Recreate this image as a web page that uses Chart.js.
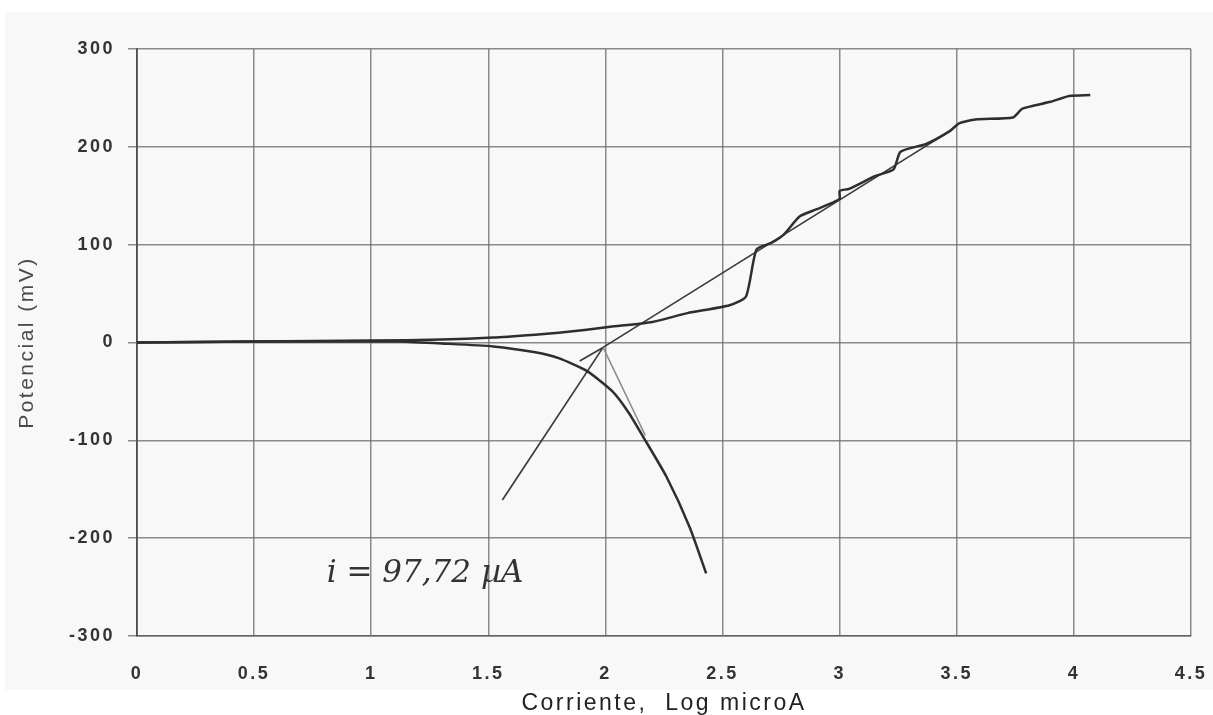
<!DOCTYPE html>
<html>
<head>
<meta charset="utf-8">
<script src="https://cdn.jsdelivr.net/npm/chart.js@4/dist/chart.umd.min.js"></script>
<style>
  html, body { margin: 0; padding: 0; background: #ffffff; }
  #wrap { width: 1213px; height: 715px; }
</style>
</head>
<body>
<div id="wrap"><canvas id="c" width="1213" height="715"></canvas></div>
<script>
// Polarization curve: potential (mV) vs log of current (microA)
const anodicLogI = [0, 0.5, 1.0, 1.3, 1.52, 1.7, 1.8, 1.92, 2.02, 2.2, 2.35, 2.53, 2.6, 2.645, 2.71, 2.76, 2.83, 2.9, 2.97, 3.0, 3.0, 3.04, 3.15, 3.23, 3.26, 3.37, 3.47, 3.51, 3.58, 3.74, 3.78, 3.9, 3.98, 4.07];
const anodicE    = [0, 1, 2, 3, 5, 8, 10, 13, 16, 21, 30, 38, 47, 95, 102, 110, 129, 136, 143, 147, 155, 157, 170, 177, 195, 203, 216, 224, 228, 230, 239, 246, 252, 253];

const cathodicLogI = [0, 0.5, 1.0, 1.12, 1.3, 1.52, 1.7, 1.8, 1.92, 2.03, 2.1, 2.16, 2.26, 2.36, 2.43];
const cathodicE    = [0, 1, 1, 1, -1, -4, -10, -16, -29, -50, -72, -96, -137, -189, -236];

// Corrosion current and potential at the Tafel intersection
const icorr = 97.72;          // microA
const ecorr = -5;             // mV
const logIcorr = Math.log10(icorr);

// Tafel extrapolation end points (log microA, mV)
const anodicTafelEnd   = [3.45, 213];
const cathodicTafelEnd = [2.17, -95];
const lowerTangentEnd  = [1.56, -161];
const shortTangentEnd  = [1.89, -19];

const xTickValues = [0, 0.5, 1, 1.5, 2, 2.5, 3, 3.5, 4, 4.5];
const yTickValues = [-300, -200, -100, 0, 100, 200, 300];

const xTitle = 'Corriente,  Log microA';
const yTitle = 'Potencial (mV)';
const annotationText = 'i = 97,72 \u00B5A';
const annotationPos = [0.81, -245];

function pairs(xs, ys) { return xs.map((x, i) => ({ x: x, y: ys[i] })); }
function segment(end) { return [{ x: logIcorr, y: ecorr }, { x: end[0], y: end[1] }]; }

const curveStyle = { borderColor: '#2e2e2e', borderWidth: 2.5, pointRadius: 0, showLine: true, tension: 0.2, fill: false };
const tafelStyle = { borderColor: '#3a3a3a', borderWidth: 1.7, pointRadius: 0, showLine: true, tension: 0, fill: false };

const panelPlugin = {
  id: 'panel',
  beforeDraw(chart) {
    const ctx = chart.ctx;
    ctx.fillStyle = '#ffffff';
    ctx.fillRect(0, 0, chart.width, chart.height);
    ctx.fillStyle = '#f8f8f8';
    ctx.fillRect(5, 12, chart.width - 5, 678);
    ctx.letterSpacing = '2.5px';
  }
};

const annotationPlugin = {
  id: 'icorrLabel',
  afterDatasetsDraw(chart) {
    const ctx = chart.ctx;
    const x = chart.scales.x.getPixelForValue(annotationPos[0]);
    const y = chart.scales.y.getPixelForValue(annotationPos[1]);
    ctx.save();
    ctx.letterSpacing = '0px';
    ctx.font = 'italic 31px "DejaVu Serif", "Liberation Serif", serif';
    ctx.fillStyle = '#333333';
    ctx.textAlign = 'left';
    ctx.textBaseline = 'alphabetic';
    ctx.fillText(annotationText, x, y);
    ctx.restore();
  }
};

new Chart(document.getElementById('c'), {
  type: 'scatter',
  data: {
    datasets: [
      Object.assign({ data: pairs(anodicLogI, anodicE) }, curveStyle),
      Object.assign({ data: pairs(cathodicLogI, cathodicE) }, curveStyle),
      Object.assign({ data: segment(anodicTafelEnd) }, tafelStyle),
      Object.assign({ data: segment(cathodicTafelEnd) }, tafelStyle, { borderColor: '#8a8a8a', borderWidth: 1.5 }),
      Object.assign({ data: segment(lowerTangentEnd) }, tafelStyle),
      Object.assign({ data: segment(shortTangentEnd) }, tafelStyle)
    ]
  },
  options: {
    responsive: false,
    animation: false,
    layout: { padding: { top: 49, right: 22, left: 0, bottom: 0 } },
    plugins: { legend: { display: false }, tooltip: { enabled: false } },
    scales: {
      x: {
        type: 'linear',
        min: 0, max: 4.5,
        afterFit(scale) { scale.height = 79; scale.paddingLeft = 0; scale.paddingRight = 0; },
        afterBuildTicks(scale) { scale.ticks = xTickValues.map(v => ({ value: v })); },
        grid: { color: 'rgba(110,110,110,0.8)', lineWidth: 1.5, drawTicks: false },
        border: { display: true, color: 'rgba(90,90,90,0.85)', width: 1.5 },
        ticks: {
          autoSkip: false, maxRotation: 0, padding: 27,
          color: '#333333',
          font: { family: '"Liberation Sans", Arial, sans-serif', size: 18, weight: 'bold' },
          callback: v => String(v)
        },
        title: {
          display: true, text: xTitle, color: '#222222',
          font: { family: '"Liberation Sans", Arial, sans-serif', size: 23, lineHeight: 1.0 },
          padding: { top: 0, bottom: 0 }
        }
      },
      y: {
        type: 'linear',
        min: -300, max: 300,
        afterFit(scale) { scale.width = 137; scale.paddingTop = 0; scale.paddingBottom = 0; },
        afterBuildTicks(scale) { scale.ticks = yTickValues.map(v => ({ value: v })); },
        grid: { color: 'rgba(110,110,110,0.8)', lineWidth: 1.5, tickLength: 9 },
        border: { display: true, color: 'rgba(70,70,70,0.9)', width: 1.8 },
        ticks: {
          padding: 13,
          color: '#333333',
          font: { family: '"Liberation Sans", Arial, sans-serif', size: 18, weight: 'bold' },
          callback: v => String(v)
        },
        title: {
          display: true, text: yTitle, color: '#4a4a4a',
          font: { family: '"Liberation Sans", Arial, sans-serif', size: 21, lineHeight: 1.2 },
          padding: { top: 15, bottom: 0 }
        }
      }
    }
  },
  plugins: [panelPlugin, annotationPlugin]
});
</script>
</body>
</html>
